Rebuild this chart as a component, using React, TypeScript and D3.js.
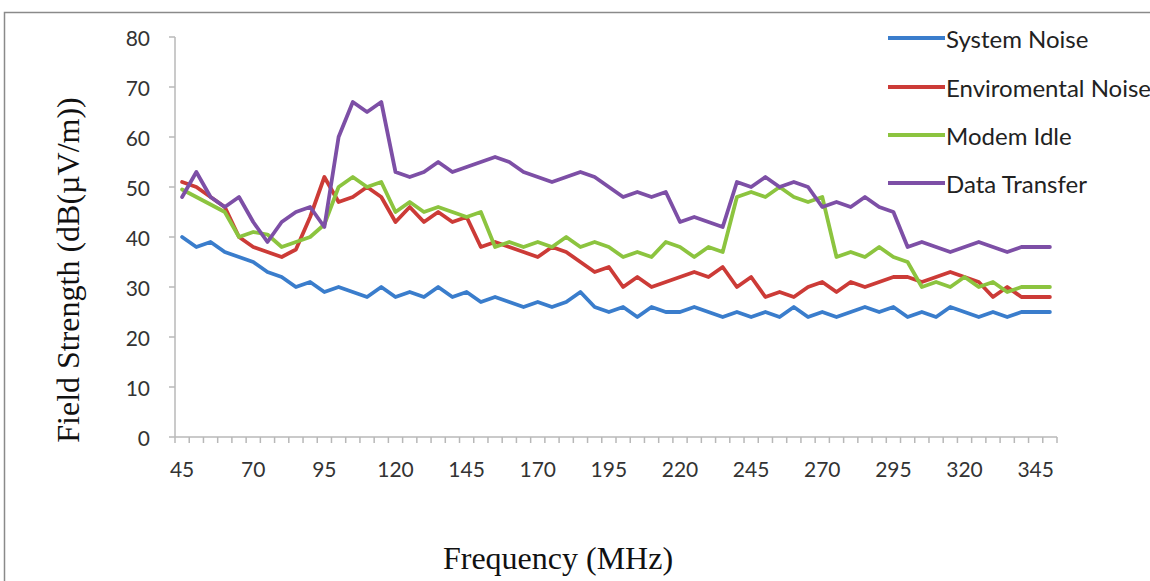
import React from "react";
import * as d3 from "d3";

const frequencies: number[] = Array.from({ length: 62 }, (_, i) => 45 + 5 * i);
const xTickLabels: number[] = [45, 70, 95, 120, 145, 170, 195, 220, 245, 270, 295, 320, 345];
const yTicks: number[] = [0, 10, 20, 30, 40, 50, 60, 70, 80];

const systemNoise: number[] = [
  40, 38, 39, 37, 36, 35, 33, 32, 30, 31, 29, 30, 29, 28, 30, 28, 29, 28, 30, 28,
  29, 27, 28, 27, 26, 27, 26, 27, 29, 26, 25, 26, 24, 26, 25, 25, 26, 25, 24, 25,
  24, 25, 24, 26, 24, 25, 24, 25, 26, 25, 26, 24, 25, 24, 26, 25, 24, 25, 24, 25,
  25, 25,
];
const environmentalNoise: number[] = [
  51, 50, 48, 46, 40, 38, 37, 36, 37.5, 44, 52, 47, 48, 50, 48, 43, 46, 43, 45, 43,
  44, 38, 39, 38, 37, 36, 38, 37, 35, 33, 34, 30, 32, 30, 31, 32, 33, 32, 34, 30,
  32, 28, 29, 28, 30, 31, 29, 31, 30, 31, 32, 32, 31, 32, 33, 32, 31, 28, 30, 28,
  28, 28,
];
const modemIdle: number[] = [
  49.5, 48, 46.5, 45, 40, 41, 40.5, 38, 39, 40, 42.5, 50, 52, 50, 51, 45, 47, 45, 46, 45,
  44, 45, 38, 39, 38, 39, 38, 40, 38, 39, 38, 36, 37, 36, 39, 38, 36, 38, 37, 48,
  49, 48, 50, 48, 47, 48, 36, 37, 36, 38, 36, 35, 30, 31, 30, 32, 30, 31, 29, 30,
  30, 30,
];
const dataTransfer: number[] = [
  48, 53, 48, 46, 48, 43, 39, 43, 45, 46, 42, 60, 67, 65, 67, 53, 52, 53, 55, 53,
  54, 55, 56, 55, 53, 52, 51, 52, 53, 52, 50, 48, 49, 48, 49, 43, 44, 43, 42, 51,
  50, 52, 50, 51, 50, 46, 47, 46, 48, 46, 45, 38, 39, 38, 37, 38, 39, 38, 37, 38,
  38, 38,
];

const seriesNames: string[] = ["System Noise", "Enviromental Noise", "Modem Idle", "Data Transfer"];
const seriesColors: string[] = ["#3a7dcc", "#cc3b37", "#8cc43f", "#7d4fa6"];
const seriesValues: number[][] = [systemNoise, environmentalNoise, modemIdle, dataTransfer];

const W = 1150;
const H = 581;
const plotLeft = 175;
const plotRight = 1057;
const plotTop = 37;
const plotBottom = 437;

const tickFont = "Lato, 'Open Sans', sans-serif";
const serif = "'Liberation Serif', 'DejaVu Serif', serif";

export default function App() {
  const x = d3
    .scaleBand<number>()
    .domain(frequencies)
    .range([plotLeft, plotRight])
    .paddingInner(0)
    .paddingOuter(0);
  const bw = x.bandwidth();
  const cx = (f: number) => (x(f) as number) + bw / 2;
  const y = d3.scaleLinear().domain([0, 80]).range([plotBottom, plotTop]);

  const line = d3
    .line<number>()
    .x((_, i) => cx(frequencies[i]))
    .y((d) => y(d));

  const boundaries = frequencies.map((f) => x(f) as number).concat([plotRight]);

  const legendX1 = 888;
  const legendX2 = 945;
  const legendY = [38, 87, 135, 183];

  return (
    <svg
      width={W}
      height={H}
      style={{ position: "absolute", left: 0, top: 0, background: "#fff" }}
    >
      <rect x={4.5} y={12.5} width={W + 10} height={H + 10} fill="#fff" stroke="#8a8a8a" strokeWidth={1.5} />

      {/* y axis */}
      <line x1={plotLeft} x2={plotLeft} y1={plotTop} y2={plotBottom} stroke="#b8b8b8" strokeWidth={1.5} />
      {yTicks.map((t) => (
        <g key={"y" + t}>
          <line x1={plotLeft - 6} x2={plotLeft} y1={y(t)} y2={y(t)} stroke="#b8b8b8" strokeWidth={1.5} />
          <text
            x={150}
            y={y(t)}
            textAnchor="end"
            dominantBaseline="central"
            fontFamily={tickFont}
            fontSize={21}
            fill="#333"
          >
            {t}
          </text>
        </g>
      ))}

      {/* x axis */}
      <line x1={plotLeft} x2={plotRight} y1={plotBottom} y2={plotBottom} stroke="#b8b8b8" strokeWidth={1.5} />
      {boundaries.map((bx, i) => (
        <line key={"xt" + i} x1={bx} x2={bx} y1={plotBottom} y2={plotBottom + 6} stroke="#b8b8b8" strokeWidth={1.5} />
      ))}
      {xTickLabels.map((f) => (
        <text
          key={"xl" + f}
          x={cx(f)}
          y={468}
          textAnchor="middle"
          dominantBaseline="central"
          fontFamily={tickFont}
          fontSize={21}
          fill="#333"
        >
          {f}
        </text>
      ))}

      {/* series */}
      {seriesValues.map((vals, si) => (
        <path
          key={"s" + si}
          d={line(vals) as string}
          fill="none"
          stroke={seriesColors[si]}
          strokeWidth={3.8}
          strokeLinejoin="round"
          strokeLinecap="round"
        />
      ))}

      {/* legend */}
      {seriesNames.map((name, i) => (
        <g key={"lg" + i}>
          <line x1={legendX1} x2={legendX2} y1={legendY[i]} y2={legendY[i]} stroke={seriesColors[i]} strokeWidth={3.8} />
          <text
            x={legendX2 + 1}
            y={legendY[i]}
            dominantBaseline="central"
            fontFamily={tickFont}
            fontSize={24}
            fill="#222"
          >
            {name}
          </text>
        </g>
      ))}

      {/* axis titles */}
      <text
        transform={`translate(68, ${270}) rotate(-90)`}
        textAnchor="middle"
        dominantBaseline="central"
        fontFamily={serif}
        fontSize={32}
        fill="#111"
      >
        Field Strength (dB(µV/m))
      </text>
      <text
        x={558}
        y={558}
        textAnchor="middle"
        dominantBaseline="central"
        fontFamily={serif}
        fontSize={32}
        fill="#111"
      >
        Frequency (MHz)
      </text>
    </svg>
  );
}
